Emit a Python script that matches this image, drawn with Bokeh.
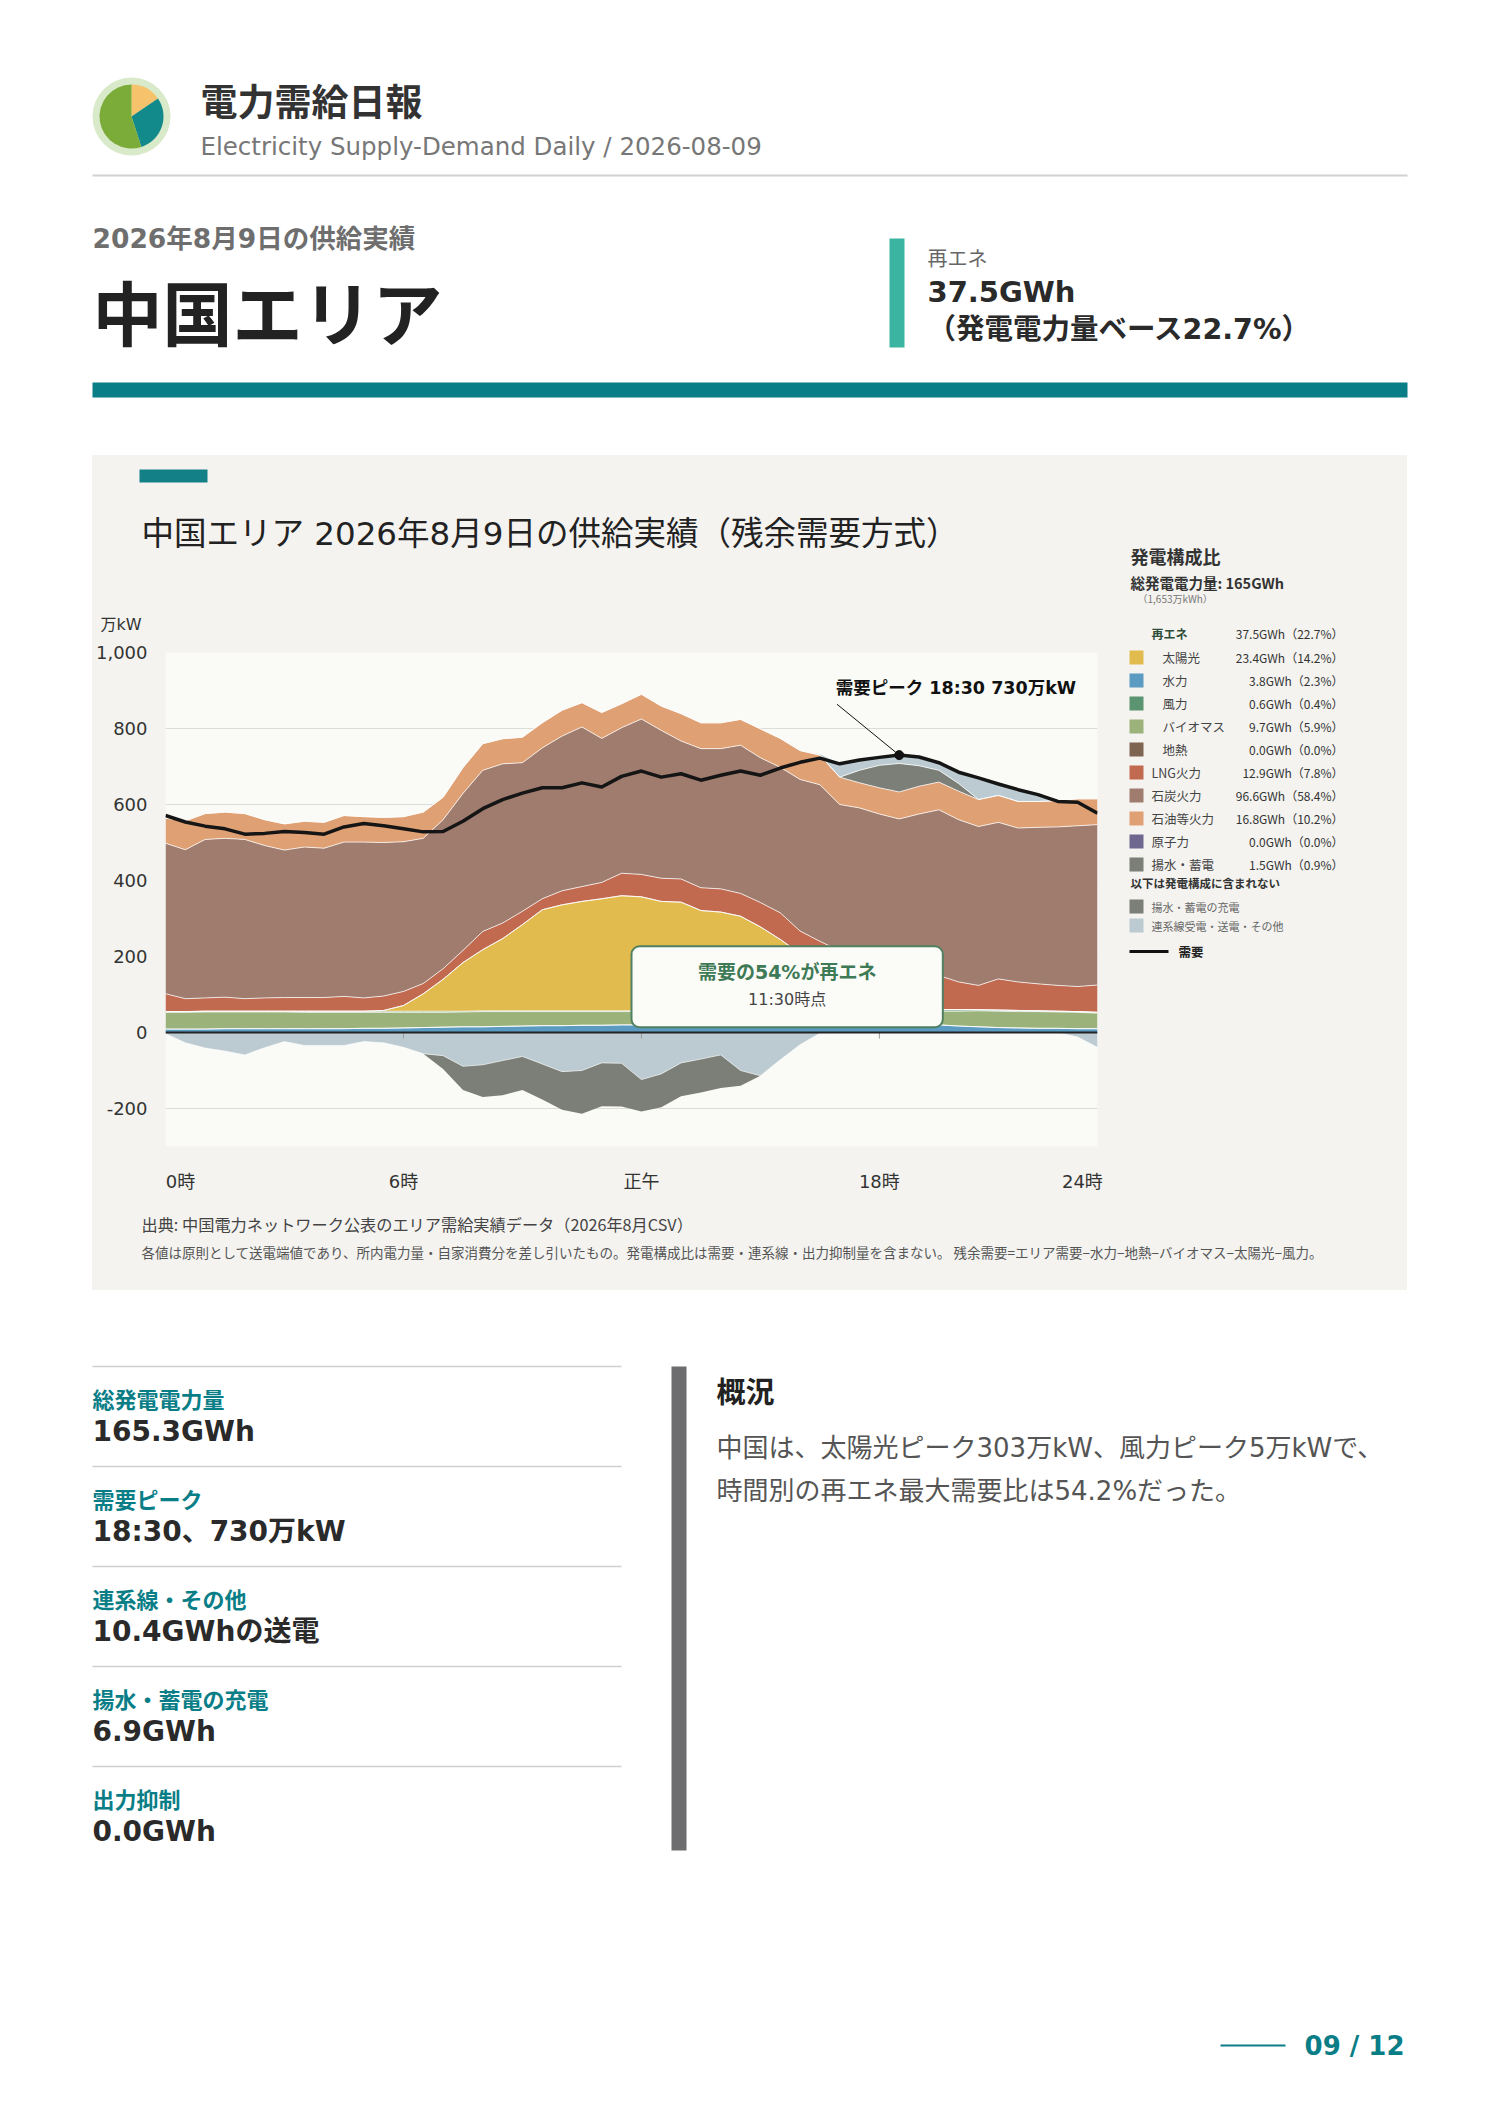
import math
from bokeh.plotting import figure
from bokeh.models import (Range1d, ColumnDataSource, FixedTicker, NumeralTickFormatter,
                          Span, Label, BoxAnnotation, Spacer)
from bokeh.layouts import row, column
from bokeh.core.properties import value
from bokeh.embed import file_html
from bokeh.resources import INLINE

FONT = "Noto Sans CJK JP"
MIX = "DejaVu Sans, Noto Sans CJK JP"

# ---------------- data (万kW, 30-minute slots 0:00 .. 23:30) ----------------
slots = list(range(48))
demand = [571, 554, 543, 536, 522, 524, 529, 526, 522, 541, 550, 544,
          536, 528, 529, 556, 589, 613, 630, 644, 644, 657, 646, 674,
          688, 672, 681, 664, 677, 688, 677, 696, 711, 722, 707, 717,
          724, 730, 725, 710, 685, 670, 654, 639, 626, 608, 606, 577]
hydro = [9, 9, 9, 10, 10, 10, 10, 10, 10, 10, 11, 11,
         12, 13, 14, 15, 15, 16, 17, 18, 18, 19, 19, 20,
         20, 21, 21, 22, 22, 22, 23, 23, 24, 24, 24, 25,
         25, 24, 22, 20, 17, 15, 13, 12, 11, 11, 10, 10]
geothermal = [0] * 48
biomass = [44, 44, 45, 44, 44, 44, 44, 43, 43, 43, 42, 42,
           41, 40, 39, 39, 40, 39, 38, 37, 37, 36, 36, 35,
           35, 34, 34, 33, 33, 32, 32, 32, 31, 30, 30, 29,
           29, 31, 33, 36, 39, 42, 43, 43, 44, 43, 43, 41]
wind = [2, 2, 2, 2, 2, 2, 2, 3, 3, 3, 3, 3,
        3, 3, 3, 2, 2, 2, 2, 2, 2, 2, 2, 2,
        2, 2, 2, 2, 2, 3, 3, 3, 3, 4, 4, 4,
        5, 5, 5, 4, 4, 3, 3, 3, 2, 2, 2, 2]
solar = [0, 0, 0, 0, 0, 0, 0, 0, 0, 0, 0, 2,
         15, 46, 84, 128, 161, 190, 227, 266, 279, 288, 295, 303,
         300, 288, 286, 264, 260, 249, 220, 187, 150, 115, 82, 52,
         28, 10, 2, 0, 0, 0, 0, 0, 0, 0, 0, 0]
nuclear = [0] * 48
lng = [47, 34, 35, 37, 33, 35, 36, 36, 36, 39, 35, 38,
       37, 27, 28, 32, 48, 41, 35, 29, 37, 39, 43, 59,
       59, 61, 61, 60, 61, 60, 64, 70, 59, 67, 75, 85,
       91, 95, 96, 90, 73, 64, 82, 75, 71, 68, 66, 72]
coal = [396, 392, 417, 418, 419, 401, 388, 396, 393, 406, 410, 404,
        394, 382, 392, 413, 424, 419, 391, 397, 407, 420, 379, 383,
        409, 389, 363, 366, 369, 390, 381, 383, 399, 412, 385, 396,
        397, 397, 417, 436, 427, 418, 412, 405, 412, 417, 423, 422]
oil = [66, 76, 68, 69, 68, 68, 69, 68, 68, 70, 67, 66,
       66, 69, 59, 68, 70, 66, 67, 66, 68, 64, 68, 63,
       65, 64, 72, 68, 68, 68, 76, 76, 76, 78, 72, 66,
       69, 71, 73, 73, 75, 71, 71, 70, 68, 69, 71, 68]
pumped = [0, 0, 0, 0, 0, 0, 0, 0, 0, 0, 0, 0,
          0, 0, 0, 0, 0, 0, 0, 0, 0, 0, 0, 0,
          0, 0, 0, 0, 0, 0, 0, 0, 0, 0, 0, 33,
          59, 75, 54, 31, 20, 0, 0, 0, 0, 0, 0, 0]
recv = [0, 0, 0, 0, 0, 0, 0, 0, 0, 0, 0, 0,
        0, 0, 0, 0, 0, 0, 0, 0, 0, 0, 0, 0,
        0, 0, 0, 0, 0, 0, 0, 0, 0, 2, 35, 27,
        22, 22, 24, 20, 30, 55, 30, 31, 18, 0, 0, 0]
send = [-3, -27, -41, -49, -59, -40, -24, -34, -34, -34, -24, -27,
        -39, -56, -61, -89, -85, -74, -63, -83, -103, -100, -80, -81,
        -124, -109, -80, -70, -59, -100, -114, -72, -32, -2, 0, 0,
        0, 0, 0, 0, 0, 0, 0, 0, 0, 0, -12, -39]
charge = [0, 0, 0, 0, 0, 0, 0, 0, 0, 0, 0, 0,
          0, 0, -35, -62, -85, -91, -88, -93, -100, -114, -114, -114,
          -84, -88, -88, -88, -87, -40, 0, 0, 0, 0, 0, 0,
          0, 0, 0, 0, 0, 0, 0, 0, 0, 0, 0, 0]

x_tick_pos = [0.38, 6, 12, 18, 23.12]
x_tick_labels = ["0時", "6時", "正午", "18時", "24時"]
y_ticks = [-200, 0, 200, 400, 600, 800, 1000]

legend_names = ["太陽光", "水力", "風力", "バイオマス", "地熱", "LNG火力", "石炭火力", "石油等火力", "原子力", "揚水・蓄電"]
legend_keys = ["solar", "hydro", "wind", "biomass", "geothermal", "lng", "coal", "oil", "nuclear", "pumped"]
legend_sub = [True, True, True, True, True, False, False, False, False, False]
legend_gwh = [23.4, 3.8, 0.6, 9.7, 0.0, 12.9, 96.6, 16.8, 0.0, 1.5]
legend_pct = [14.2, 2.3, 0.4, 5.9, 0.0, 7.8, 58.4, 10.2, 0.0, 0.9]
renew_gwh, renew_pct = 37.5, 22.7
total_gwh, total_man_kwh = 165, "1,653"

stat_labels = ["総発電電力量", "需要ピーク", "連系線・その他", "揚水・蓄電の充電", "出力抑制"]
stat_values = ["165.3GWh", "18:30、730万kW", "10.4GWhの送電", "6.9GWh", "0.0GWh"]

COL = {
    "hydro": "#5b9bc1", "geothermal": "#7e6552", "biomass": "#9bb37b", "wind": "#5a9470",
    "solar": "#e2bb4f", "nuclear": "#6e6790", "lng": "#c26a50", "coal": "#a07c6f",
    "oil": "#dfa174", "pumped": "#7c7f77", "recv": "#bccbd2",
}
PANEL = "#f4f3f0"
FRAME = "#fafaf7"
TEAL = "#0a7e87"
BGSTYLE = {"background-color": PANEL}


def pixfig(w, h, bg="#ffffff"):
    p = figure(width=w, height=h, x_range=Range1d(0, w), y_range=Range1d(h, 0),
               output_backend="svg", toolbar_location=None, min_border=0,
               x_axis_location=None, y_axis_location=None)
    p.grid.visible = False
    p.outline_line_color = None
    p.background_fill_color = bg
    p.border_fill_color = bg
    p.frame_align = False
    return p


def txt(p, x, y, s, size, color, bold=False, align="left", baseline="middle", font=FONT):
    p.text(x=[x], y=[y], text=[s], text_font=value(font), text_font_size=value(f"{size}px"),
           text_font_style=value("bold" if bold else "normal"), text_color=color,
           text_align=value(align), text_baseline=value(baseline))


# ---------------- header ----------------
hdr = pixfig(1472, 447)
hdr.circle(x=[123], y=[108], radius=39, fill_color="#d8eac9", line_color=None)
pie_frac = [0.155, 0.295, 0.55]
pie_cols = ["#f6c36c", "#128a8b", "#7bab39"]
a = math.pi / 2
for f, c in zip(pie_frac, pie_cols):
    hdr.wedge(x=[123], y=[108], radius=32, start_angle=a - f * 2 * math.pi, end_angle=a,
              fill_color=c, line_color=None)
    a -= f * 2 * math.pi
txt(hdr, 192, 91, "電力需給日報", 37, "#333333", bold=True)
txt(hdr, 192, 138, "Electricity Supply-Demand Daily / 2026-08-09", 24.5, "#777777", font=MIX)
hdr.segment(x0=[84], y0=[167], x1=[1399], y1=[167], line_color="#d2d2d2", line_width=2)
txt(hdr, 84, 230, "2026年8月9日の供給実績", 26.5, "#6e6e6e", bold=True, font=MIX)
txt(hdr, 84, 302, "中国エリア", 70, "#222222", bold=True)
hdr.quad(left=[881], right=[896], top=[230], bottom=[339], fill_color="#3bb5a1", line_color=None)
txt(hdr, 919, 249, "再エネ", 20, "#666666")
txt(hdr, 919, 283, f"{renew_gwh}GWh", 29, "#2a2a2a", bold=True, font=MIX)
txt(hdr, 919, 321, f"（発電電力量ベース{renew_pct}%）", 28.5, "#2a2a2a", bold=True, font=MIX)
hdr.quad(left=[84], right=[1399], top=[374], bottom=[389], fill_color=TEAL, line_color=None)

# ---------------- chart panel: top ----------------
top = pixfig(1020, 185, PANEL)
top.quad(left=[47], right=[115], top=[14], bottom=[27], fill_color="#137f87", line_color=None)
txt(top, 49, 78, "中国エリア 2026年8月9日の供給実績（残余需要方式）", 32.5, "#222222", font=MIX)
txt(top, 8, 169, "万kW", 16, "#333333", font=MIX)

# ---------------- chart ----------------
src = ColumnDataSource(dict(
    x=[s / 2 for s in slots], demand=demand, hydro=hydro, geothermal=geothermal,
    biomass=biomass, wind=wind, solar=solar, nuclear=nuclear, lng=lng, coal=coal,
    oil=oil, pumped=pumped, recv=recv, send=send, charge=charge))

p = figure(width=1020, height=556, x_range=Range1d(0, 23.5), y_range=Range1d(-300, 1000),
           output_backend="svg", toolbar_location=None,
           min_border_left=71, min_border_right=15, min_border_top=12, min_border_bottom=50)
p.frame_align = False
p.border_fill_color = PANEL
p.background_fill_color = FRAME
p.outline_line_color = None

pos = ["hydro", "geothermal", "biomass", "wind", "solar", "nuclear", "lng", "coal", "oil", "pumped", "recv"]
neg = ["send", "charge"]
p.varea_stack(pos, x="x", color=[COL[k] for k in pos], source=src)
p.varea_stack(neg, x="x", color=[COL["recv"], COL["pumped"]], source=src)
p.vline_stack(pos[:-1], x="x", line_color="#ffffff", line_width=1, line_alpha=0.75, source=src)
p.vline_stack(neg[:-1], x="x", line_color="#ffffff", line_width=1, line_alpha=0.6, source=src)

p.add_layout(Span(location=0, dimension="width", line_color="#222222", line_width=2.2))
p.segment(x0=x_tick_pos[1:4], y0=[0] * 3, x1=x_tick_pos[1:4], y1=[-16] * 3,
          line_color="#9a9a9a", line_width=1)

p.line("x", "demand", source=src, line_color="#151515", line_width=3.5, line_join="round")

pk = max(range(len(demand)), key=lambda i: demand[i])
px, py = slots[pk] / 2, demand[pk]
p.segment(x0=[px - 1.57], y0=[py + 134], x1=[px], y1=[py], line_color="#111111", line_width=1)
p.scatter(x=[px], y=[py], size=9, color="#111111")
p.add_layout(Label(x=px - 1.6, y=py + 177, text=f"需要ピーク 18:30 {py}万kW",
                   text_font=MIX, text_font_size="17.5px", text_font_style="bold",
                   text_color="#111111", text_baseline="middle"))

box = BoxAnnotation(left=11.75, right=19.6, bottom=14, top=227, fill_color="#fbfbf8", fill_alpha=1,
                    line_color="#4f8060", line_width=2, line_alpha=1, border_radius=8)
p.add_layout(box)
p.add_layout(Label(x=15.675, y=159, text="需要の54%が再エネ", text_font=MIX, text_font_size="19px",
                   text_font_style="bold", text_color="#3e7a55", text_align="center",
                   text_baseline="middle"))
p.add_layout(Label(x=15.675, y=86, text="11:30時点", text_font=MIX, text_font_size="16px",
                   text_color="#444444", text_align="center", text_baseline="middle"))

p.xgrid.visible = False
p.ygrid.ticker = FixedTicker(ticks=y_ticks)
p.ygrid.grid_line_color = "#dcdcd8"
p.ygrid.grid_line_width = 1.2
p.yaxis.ticker = FixedTicker(ticks=y_ticks)
p.yaxis.formatter = NumeralTickFormatter(format="0,0")
p.xaxis.ticker = FixedTicker(ticks=x_tick_pos)
p.xaxis.major_label_overrides = {float(k): v for k, v in zip(x_tick_pos, x_tick_labels)}
for ax in (p.xaxis, p.yaxis):
    ax.axis_line_color = None
    ax.major_tick_line_color = None
    ax.minor_tick_line_color = None
    ax.major_label_text_font = MIX
    ax.major_label_text_font_size = "18px"
    ax.major_label_text_color = "#333333"
p.yaxis.major_label_standoff = 12
p.xaxis.major_label_standoff = 18

# ---------------- legend ----------------
lg = pixfig(295, 741, PANEL)
txt(lg, 18, 100, "発電構成比", 18, "#333333", bold=True)
txt(lg, 18, 127, f"総発電電力量: {total_gwh}GWh", 14.5, "#333333", bold=True)
txt(lg, 25, 143, f"（{total_man_kwh}万kWh）", 10, "#777777")
txt(lg, 39, 178, "再エネ", 12, "#2e4d38", bold=True)
txt(lg, 231, 178, f"{renew_gwh}GWh（{renew_pct}%）", 12, "#333333", align="right")
for j, (nm, key, sub, g, pc) in enumerate(zip(legend_names, legend_keys, legend_sub, legend_gwh, legend_pct)):
    yy = 202 + j * 23
    lg.rect(x=[24], y=[yy], width=14, height=14, fill_color=COL[key], line_color=None)
    txt(lg, 50 if sub else 39, yy, nm, 12.5, "#444444")
    txt(lg, 231, yy, f"{g:.1f}GWh（{pc:.1f}%）", 12, "#333333", align="right")
txt(lg, 18, 427, "以下は発電構成に含まれない", 11.5, "#333333", bold=True)
lg.rect(x=[24], y=[451], width=14, height=14, fill_color=COL["pumped"], line_color=None)
txt(lg, 39, 451, "揚水・蓄電の充電", 11, "#666666")
lg.rect(x=[24], y=[470], width=14, height=14, fill_color=COL["recv"], line_color=None)
txt(lg, 39, 470, "連系線受電・送電・その他", 11, "#666666")
lg.segment(x0=[17], y0=[496], x1=[56], y1=[496], line_color="#111111", line_width=3)
txt(lg, 66, 496, "需要", 12.5, "#222222", bold=True)

# ---------------- footer of panel ----------------
ft = pixfig(1315, 94, PANEL)
txt(ft, 49, 27, "出典: 中国電力ネットワーク公表のエリア需給実績データ（2026年8月CSV）", 16.2, "#444444")
txt(ft, 49, 55, "各値は原則として送電端値であり、所内電力量・自家消費分を差し引いたもの。発電構成比は需要・連系線・出力抑制量を含まない。 "
                "残余需要=エリア需要−水力−地熱−バイオマス−太陽光−風力。", 13.5, "#555555")

panel = column(row(column(top, p, styles=BGSTYLE), lg, styles=BGSTYLE), ft, styles=BGSTYLE)

# ---------------- bottom section ----------------
bt = pixfig(1472, 795)
for k, (lab, val) in enumerate(zip(stat_labels, stat_values)):
    y0 = 76 + k * 100
    bt.segment(x0=[84], y0=[y0], x1=[613], y1=[y0], line_color="#cfcfcf", line_width=1.5)
    txt(bt, 84, y0 + 31, lab, 22, TEAL, bold=True)
    txt(bt, 84, y0 + 65, val, 28, "#2a2a2a", bold=True, font=MIX)
bt.quad(left=[663], right=[678], top=[76], bottom=[560], fill_color="#6d6d70", line_color=None)
txt(bt, 708, 99, "概況", 29, "#222222", bold=True)
txt(bt, 708, 157, "中国は、太陽光ピーク303万kW、風力ピーク5万kWで、", 26, "#555555", font=MIX)
txt(bt, 708, 200, "時間別の再エネ最大需要比は54.2%だった。", 26, "#555555", font=MIX)
bt.segment(x0=[1212], y0=[755], x1=[1277], y1=[755], line_color=TEAL, line_width=2)
txt(bt, 1396, 755, "09 / 12", 26, TEAL, bold=True, align="right", font=MIX)

layout = row(Spacer(width=8, height=8),
             column(Spacer(width=8, height=8),
                    hdr,
                    row(Spacer(width=84, height=835), panel, Spacer(width=73, height=835)),
                    bt))

open("out.html", "w").write(file_html(layout, INLINE))
